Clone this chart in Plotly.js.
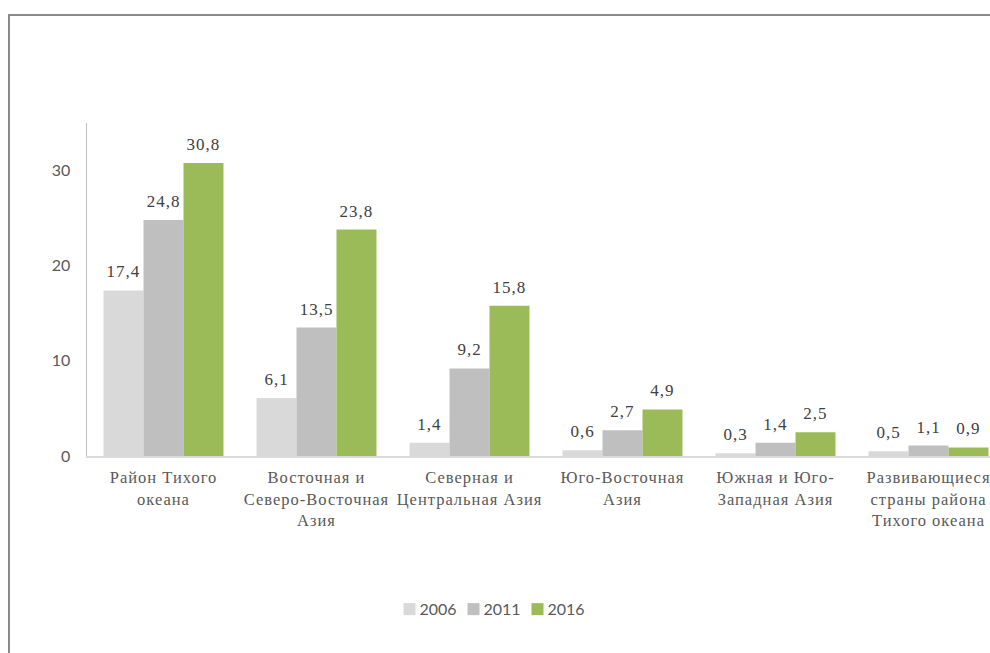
<!DOCTYPE html>
<html>
<head>
<meta charset="utf-8">
<script src="https://cdn.plot.ly/plotly-3.0.1.min.js"></script>
<style>
html, body { margin:0; padding:0; overflow:hidden; background:#fff; width:990px; height:653px; }
#frame { position:absolute; left:8px; top:14px; width:2000px; height:2000px; border:2px solid #8a8a8a; box-sizing:border-box; }
#chart { position:absolute; left:0; top:0; width:1020px; height:653px; }
#chart .xtick text { letter-spacing: 1px; }
#chart .bars text { letter-spacing: 1px; }
</style>
</head>
<body>
<div id="frame"></div>
<div id="chart"></div>
<script>
const categories = [
  "Район Тихого<br>океана",
  "Восточная и<br>Северо-Восточная<br>Азия",
  "Северная и<br>Центральная Азия",
  "Юго-Восточная<br>Азия",
  "Южная и Юго-<br>Западная Азия",
  "Развивающиеся<br>страны района<br>Тихого океана"
];
const years = ["2006", "2011", "2016"];
const values2006 = [17.4, 6.1, 1.4, 0.6, 0.3, 0.5];
const values2011 = [24.8, 13.5, 9.2, 2.7, 1.4, 1.1];
const values2016 = [30.8, 23.8, 15.8, 4.9, 2.5, 0.9];
const yTicks = [0, 10, 20, 30];

const colors = ["#D9D9D9", "#BFBFBF", "#9BBB59"];
const series = [values2006, values2011, values2016];

const traces = series.map((vals, i) => ({
  type: "bar",
  name: years[i],
  x: categories,
  y: vals,
  marker: { color: colors[i] },
  text: vals.map(v => v.toFixed(1).replace(".", ",")),
  textposition: "outside",
  cliponaxis: false,
  textfont: { family: "Liberation Serif, serif", size: 17, color: "#404040" },
  hoverinfo: "none"
}));

const layout = {
  width: 1020,
  height: 653,
  margin: { l: 87, r: 15, t: 123, b: 197 },
  paper_bgcolor: "rgba(0,0,0,0)",
  plot_bgcolor: "rgba(0,0,0,0)",
  barmode: "group",
  bargap: 0.216,
  bargroupgap: 0,
  separators: ", ",
  showlegend: true,
  legend: {
    orientation: "h",
    xref: "container", yref: "container",
    x: 0.476, xanchor: "center",
    y: 0.067, yanchor: "middle",
    font: { family: "Lato, sans-serif", size: 16, color: "#595959" },
    itemwidth: 30,
    entrywidth: 19,
    entrywidthmode: "pixels",
    traceorder: "normal"
  },
  xaxis: {
    type: "category",
    showline: true,
    linecolor: "#D9D9D9",
    linewidth: 1.5,
    ticks: "",
    showgrid: false,
    tickfont: { family: "Liberation Serif, serif", size: 16.5, color: "#595959" },
    ticklabelstandoff: 6
  },
  yaxis: {
    range: [0, 35],
    tickvals: yTicks,
    ticktext: yTicks.map(String),
    showline: true,
    linecolor: "#BFBFBF",
    linewidth: 1.5,
    showgrid: false,
    zeroline: false,
    ticks: "outside",
    ticklen: 12,
    tickcolor: "rgba(0,0,0,0)",
    tickfont: { family: "Lato, sans-serif", size: 16, color: "#595959" }
  }
};

Plotly.newPlot("chart", traces, layout, { displayModeBar: false, staticPlot: true }).then(gd => {
  gd.querySelectorAll(".bars .point text").forEach(t => {
    const tr = t.getAttribute("transform") || "";
    t.setAttribute("transform", "translate(0,-6) " + tr);
  });
  gd.querySelectorAll(".legend [clip-path]").forEach(el => el.removeAttribute("clip-path"));
  gd.querySelectorAll(".legend .legendtext").forEach(t => {
    const x = parseFloat(t.getAttribute("x") || "0");
    t.setAttribute("x", x - 10);
  });
});
</script>
</body>
</html>
